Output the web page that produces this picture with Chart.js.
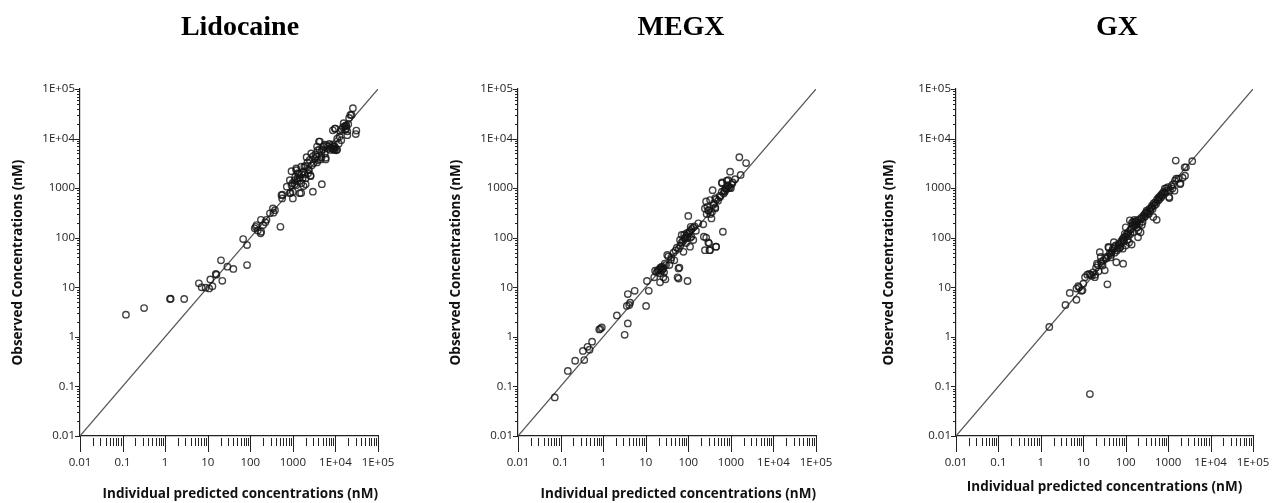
<!DOCTYPE html>
<html>
<head>
<meta charset="utf-8">
<script src="https://cdn.jsdelivr.net/npm/chart.js@4/dist/chart.umd.min.js"></script>
<style>
  html, body { margin: 0; padding: 0; background: #fff; }
  #wrap { position: relative; width: 1277px; height: 503px; overflow: hidden; }
  canvas { position: absolute; top: 0; }
</style>
</head>
<body>
<div id="wrap">
  <canvas id="c1" width="480" height="503" style="left:0px"></canvas>
  <canvas id="c2" width="486" height="503" style="left:438px"></canvas>
  <canvas id="c3" width="482" height="503" style="left:876px"></canvas>
</div>
<script>
// axis ticks (shared by all panels)
const decades = [0.01, 0.1, 1, 10, 100, 1000, 1e4, 1e5];
const decadeLabels = ['0.01', '0.1', '1', '10', '100', '1000', '1E+04', '1E+05'];
const identity = [0.01, 1e5];

// [individual predicted, observed] in nM
const lidocaine = [
  [0.12, 2.8], [0.32, 3.8], [1.3, 5.8], [1.35, 5.9], [2.8, 5.8], [6.2, 12], [7.2, 10], [8.9, 9.8],
  [10.8, 9.5], [11.5, 14.4], [12.9, 10.5], [15.5, 18.6], [16, 18], [20.5, 35], [22, 13.5], [29, 26],
  [40, 23.5], [68, 94], [84, 71], [84, 28], [135, 166], [140, 180], [150, 140], [127, 155], [180, 132],
  [175, 123], [178, 230], [226, 205], [200, 180], [240, 230], [290, 310], [340, 390], [350, 320],
  [380, 360], [510, 166], [540, 720], [560, 620], [570, 740], [720, 1070], [850, 790], [880, 810],
  [930, 2200], [850, 1450], [930, 1150], [1000, 850], [1000, 620], [1100, 1450], [1200, 2500],
  [1200, 1150], [1320, 2000], [1450, 1590], [1450, 790], [1580, 2700], [1580, 1260], [1740, 2150],
  [1790, 1100], [2000, 2800], [2000, 1590], [2100, 4200], [2280, 2000], [2500, 3700], [2600, 1740],
  [2700, 5000], [2950, 850], [3100, 3200], [3600, 4300], [3700, 6900], [3900, 3700], [4100, 8700],
  [4500, 3800], [4700, 5500], [4800, 1200], [5200, 6900], [5600, 5000], [5900, 3800], [6200, 7400],
  [7600, 5900], [8500, 6300], [8700, 14700], [9100, 6900], [9600, 5900], [10000, 15900], [11000, 10000],
  [12000, 8000], [13700, 9300], [15600, 20400], [18000, 18000], [19000, 11700], [22400, 30000],
  [25700, 41000], [30000, 12300], [31000, 14500], [980, 1260], [1140, 1700], [1100, 1200],
  [1200, 2300], [1290, 1380], [1400, 1930], [1570, 800], [1700, 1600], [1860, 2700], [2000, 1200],
  [2200, 3300], [2400, 2300], [2600, 1800], [3000, 4400], [3400, 4800], [3700, 3300], [3800, 5800],
  [4300, 8700], [4700, 4200], [5600, 7500], [5900, 4100], [6600, 6900], [8000, 6500], [8500, 7500],
  [9700, 15800], [11000, 6000], [12500, 11000], [13000, 14000], [15000, 17000], [17600, 18500],
  [19000, 14000], [21000, 26000], [24000, 30000], [18000, 16000], [9000, 6000], [10000, 6500],
  [9500, 7000], [10500, 5800], [8800, 6200], [4200, 6000], [3300, 3900], [2800, 2900], [1900, 1900],
  [1300, 1600], [1600, 1900], [2300, 2400], [5000, 6000], [6800, 6200], [7200, 7800], [14000, 15500],
  [16500, 17500], [17000, 15000], [20000, 19500]
];

const megx = [
  [0.073, 0.06], [0.148, 0.205], [0.22, 0.33], [0.335, 0.52], [0.36, 0.34], [0.43, 0.63], [0.48, 0.55],
  [0.55, 0.8], [0.81, 1.41], [0.86, 1.45], [0.93, 1.55], [2.1, 2.7], [3.2, 1.1], [3.8, 1.87], [3.6, 4.2],
  [4.1, 4.4], [3.8, 7.3], [4.3, 4.9], [5.5, 8.5], [10.2, 4.2], [10.7, 13.4], [11.8, 8.5], [15.8, 15.9],
  [16.6, 21.6], [20, 22], [21.7, 12.6], [21, 23], [23, 24], [24, 22], [25, 23.5], [22, 19], [26, 16],
  [29, 14.5], [32, 45], [34, 42], [36, 28], [39, 36], [47, 35], [54, 63], [59, 24], [59, 15], [64, 90],
  [70, 114], [77, 52], [81, 98], [89, 78], [92, 123], [100, 275], [96, 13.4], [110, 138], [114, 166],
  [110, 66], [118, 105], [131, 90], [151, 138], [172, 195], [225, 186], [232, 105], [246, 56], [246, 390],
  [262, 540], [270, 300], [296, 360], [314, 56], [296, 80], [350, 245], [390, 460], [373, 910], [430, 410],
  [430, 630], [450, 66], [560, 660], [615, 850], [650, 132], [620, 1260], [870, 1450], [960, 2150],
  [1050, 1200], [1260, 1510], [1580, 4200], [1700, 1850], [2280, 3200], [800, 1410], [620, 1300],
  [700, 900], [750, 1000], [850, 1100], [900, 1000], [680, 780], [720, 850], [780, 950], [820, 1150],
  [950, 1050], [1000, 1000], [1100, 1300], [325, 575], [430, 390], [300, 350], [280, 420], [330, 300],
  [360, 330], [400, 500], [450, 600], [500, 560], [550, 700], [75, 85], [85, 95], [90, 110], [95, 100],
  [100, 120], [105, 130], [70, 80], [65, 70], [60, 60], [120, 150], [130, 160], [140, 170], [80, 115],
  [110, 100], [62, 25], [56, 15.9], [263, 100], [308, 77], [447, 66], [325, 56], [18, 20], [19, 22],
  [22, 25], [24, 26], [27, 20], [28, 30], [30, 28], [26, 24], [40, 40], [45, 50], [50, 55]
];

const gx = [
  [1.58, 1.58], [14.3, 0.07], [3.8, 4.4], [4.8, 7.7], [6.9, 5.6], [6.9, 9.4], [7.6, 10.5], [9.6, 8.7],
  [10, 11.8], [11, 16], [12.4, 18], [13.8, 18.6], [18.7, 16], [21, 30], [24.5, 51], [25.8, 41],
  [28.5, 27.5], [32, 22], [37, 11.5], [39, 65], [40, 63], [45, 45], [48, 55], [50, 60], [52.5, 81],
  [55, 50], [60, 32], [65, 60], [70, 70], [75, 65], [80, 80], [87, 30], [87, 89], [95, 120], [100, 162],
  [110, 90], [120, 80], [138, 73], [129, 145], [125, 224], [140, 200], [150, 210], [160, 230], [175, 180],
  [185, 160], [195, 102], [224, 129], [250, 210], [260, 280], [280, 300], [300, 320], [320, 330],
  [350, 300], [447, 262], [400, 400], [420, 450], [460, 500], [537, 230], [550, 600], [600, 650],
  [650, 700], [700, 750], [750, 800], [830, 980], [900, 1000], [1050, 660], [1260, 980], [1410, 890],
  [1070, 630], [1510, 3600], [1450, 1410], [1550, 1550], [1740, 1550], [1950, 1260], [2190, 1620],
  [2450, 2630], [2500, 1780], [1910, 1200], [2630, 2630], [3700, 3500], [30, 35], [33, 40], [35, 38],
  [38, 42], [42, 48], [44, 40], [46, 50], [55, 65], [58, 70], [62, 55], [68, 75], [72, 62], [78, 85],
  [85, 95], [90, 100], [92, 85], [98, 105], [105, 115], [115, 130], [118, 110], [130, 120], [135, 150],
  [145, 180], [155, 170], [165, 190], [170, 210], [180, 220], [190, 200], [200, 230], [210, 190],
  [230, 250], [240, 240], [270, 260], [290, 270], [310, 350], [330, 310], [360, 380], [380, 350],
  [410, 420], [430, 380], [480, 450], [500, 520], [520, 480], [580, 560], [620, 600], [680, 650],
  [720, 700], [800, 850], [850, 800], [950, 900], [1000, 1050], [1100, 900], [1200, 1100], [1300, 1200],
  [8, 10], [9, 8.5], [15, 18], [16, 17], [17, 20], [19, 18], [20, 25], [22, 28], [23, 21], [26, 33],
  [27, 30], [100, 70], [85, 60], [110, 120], [200, 140], [150, 130], [240, 180]
];

function isDecade(v) {
  const l = Math.log10(v);
  return Math.abs(l - Math.round(l)) < 1e-9;
}

function logTicks(scale) {
  const out = [];
  for (let i = 0; i < decades.length; i++) {
    out.push({ value: decades[i], major: true });
    if (i < decades.length - 1) {
      for (let m = 2; m <= 9; m++) out.push({ value: decades[i] * m, major: false });
    }
  }
  scale.ticks = out;
}

function tickLabel(value) {
  const i = decades.findIndex(d => Math.abs(d - value) / d < 1e-9);
  return i >= 0 ? decadeLabels[i] : '';
}

// short/long tick marks drawn on the log axes
const tickMarks = {
  id: 'tickMarks',
  afterDraw(chart) {
    const { ctx, scales: { x, y } } = chart;
    ctx.save();
    ctx.strokeStyle = '#222';
    ctx.lineWidth = 1;
    ctx.beginPath();
    x.ticks.forEach(t => {
      const px = Math.round(x.getPixelForValue(t.value)) + 0.5;
      const major = isDecade(t.value);
      ctx.moveTo(px, x.top + (major ? 0 : 2));
      ctx.lineTo(px, x.top + (major ? 16 : 10));
    });
    y.ticks.forEach(t => {
      const py = Math.round(y.getPixelForValue(t.value)) + 0.5;
      const major = isDecade(t.value);
      ctx.moveTo(y.right - (major ? 5 : 3), py);
      ctx.lineTo(y.right, py);
    });
    ctx.stroke();
    ctx.restore();
  }
};

const tickFont = { family: 'Open Sans', size: 11.5 };
const axisTitleFont = { family: 'Open Sans', size: 13.5, weight: 'bold' };

function makePanel(id, title, pts, opt) {
  new Chart(document.getElementById(id), {
    type: 'scatter',
    data: {
      datasets: [{
        type: 'line',
        data: identity.map(v => ({ x: v, y: v })),
        borderColor: '#555',
        borderWidth: 1.2,
        pointRadius: 0,
        order: 2
      }, {
        data: pts.map(p => ({ x: p[0], y: p[1] })),
        pointRadius: 3.2,
        pointBorderWidth: 1.4,
        borderColor: 'rgba(20,20,20,0.8)',
        backgroundColor: 'rgba(0,0,0,0)',
        order: 1
      }]
    },
    options: {
      responsive: false,
      animation: false,
      events: [],
      layout: { padding: 0 },
      plugins: {
        legend: { display: false },
        tooltip: { enabled: false },
        title: {
          display: true,
          text: title,
          color: '#000',
          font: { family: 'Liberation Serif', size: 28, weight: 'bold' },
          padding: { top: 11.2, bottom: 44.2 }
        }
      },
      scales: {
        x: {
          type: 'logarithmic',
          min: 0.01,
          max: 1e5,
          afterBuildTicks: logTicks,
          afterFit: s => { s.height = 67; },
          grid: { display: false, drawTicks: false },
          border: { display: true, color: '#222', width: 1.2 },
          ticks: {
            callback: tickLabel,
            autoSkip: false,
            maxRotation: 0,
            minRotation: 0,
            padding: 20,
            color: '#222',
            font: tickFont
          },
          title: {
            display: true,
            text: 'Individual predicted concentrations (nM)',
            align: opt.xAlign,
            color: '#111',
            font: axisTitleFont,
            padding: { top: 0, bottom: opt.xTitleBottom }
          }
        },
        y: {
          type: 'logarithmic',
          min: 0.01,
          max: 1e5,
          afterBuildTicks: logTicks,
          afterFit: s => { s.width = 80; },
          grid: { display: false, drawTicks: false },
          border: { display: true, color: '#222', width: 1.2 },
          ticks: {
            callback: tickLabel,
            autoSkip: false,
            padding: 5,
            color: '#222',
            font: tickFont
          },
          title: {
            display: true,
            text: 'Observed Concentrations (nM)',
            color: '#111',
            font: axisTitleFont,
            padding: { top: opt.yTitlePad, bottom: 0 }
          }
        },
        // empty right-hand spacer so the chart title sits where the original has it
        spacer: {
          position: 'right',
          display: true,
          grid: { display: false },
          border: { display: false },
          ticks: { display: false },
          afterFit: s => { s.width = opt.rightGap; }
        }
      }
    },
    plugins: [tickMarks]
  });
}

makePanel('c1', 'Lidocaine', lidocaine, { rightGap: 102, yTitlePad: 10, xAlign: 'end', xTitleBottom: 1 });
makePanel('c2', 'MEGX', megx, { rightGap: 108, yTitlePad: 10, xAlign: 'end', xTitleBottom: 1 });
makePanel('c3', 'GX', gx, { rightGap: 105, yTitlePad: 5, xAlign: 'center', xTitleBottom: 8 });
</script>
</body>
</html>
